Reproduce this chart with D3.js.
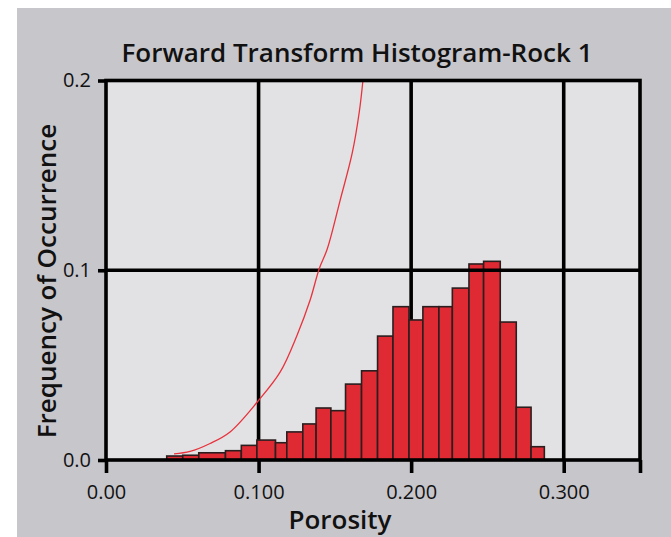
<!DOCTYPE html>
<html>
<head>
<meta charset="utf-8">
<script src="https://cdn.jsdelivr.net/npm/d3@7"></script>
<style>
  html, body { margin: 0; padding: 0; background: #ffffff; }
  svg { display: block; }
  text { font-family: "Open Sans", "Noto Sans", sans-serif; fill: #111; }
</style>
</head>
<body>
<svg id="chart" width="671" height="537"></svg>
<script>
// Histogram bin edges (porosity) and relative frequency of each bin
const binEdges = [0.0398, 0.0503, 0.0608, 0.0783, 0.0887, 0.0989, 0.1111, 0.1185,
  0.1290, 0.1377, 0.1474, 0.1570, 0.1675, 0.1780, 0.1881, 0.1986, 0.2077, 0.2182,
  0.2270, 0.2379, 0.2475, 0.2584, 0.2689, 0.2786, 0.2873];
const frequency = [0.0021, 0.0025, 0.0038, 0.0049, 0.0077, 0.0105, 0.0091, 0.0148,
  0.0190, 0.0274, 0.0260, 0.0400, 0.0470, 0.0653, 0.0808, 0.0738, 0.0808, 0.0808,
  0.0906, 0.1033, 0.1047, 0.0727, 0.0278, 0.0070];

// Forward transform curve
const curvePorosity = [0.0446, 0.0551, 0.0682, 0.0813, 0.0997, 0.1142, 0.1253, 0.1338,
  0.1397, 0.1450, 0.1535, 0.1614, 0.1660, 0.1684];
const curveValue = [0.0032, 0.0045, 0.0087, 0.0148, 0.0311, 0.0464, 0.0659, 0.0843,
  0.1007, 0.1112, 0.1370, 0.1618, 0.1834, 0.2000];

// Axes
const xTicks = [0, 0.1, 0.2, 0.3];
const xTickLabels = ["0.00", "0.100", "0.200", "0.300"];
const yTicks = [0, 0.1, 0.2];
const yTickLabels = ["0.0", "0.1", "0.2"];
const xMax = 0.35, yMax = 0.2;

const title = "Forward Transform Histogram-Rock 1";
const xTitle = "Porosity";
const yTitle = "Frequency of Occurrence";

const svg = d3.select("#chart");
const W = 671, H = 537;
const plot = { left: 106, right: 640, top: 80.5, bottom: 460 };

const x = d3.scaleLinear().domain([0, xMax]).range([plot.left, plot.right]);
const y = d3.scaleLinear().domain([0, yMax]).range([plot.bottom, plot.top]);

// panel background
svg.append("rect").attr("x", 17).attr("y", 8).attr("width", W - 17).attr("height", H - 8)
  .attr("fill", "#c7c6cb");
svg.append("rect").attr("x", plot.left).attr("y", plot.top)
  .attr("width", plot.right - plot.left).attr("height", plot.bottom - plot.top)
  .attr("fill", "#e2e2e4");

const lineW = 3.6;

// vertical grid lines (under the bars)
svg.append("g").selectAll("line").data(xTicks.filter(d => d > 0)).join("line")
  .attr("x1", d => x(d)).attr("x2", d => x(d))
  .attr("y1", plot.top).attr("y2", plot.bottom)
  .attr("stroke", "#000").attr("stroke-width", lineW);

// histogram bars
const bins = frequency.map((f, i) => ({ x0: binEdges[i], x1: binEdges[i + 1], f }));
svg.append("g").selectAll("rect").data(bins).join("rect")
  .attr("x", d => x(d.x0)).attr("width", d => x(d.x1) - x(d.x0))
  .attr("y", d => y(d.f)).attr("height", d => y(0) - y(d.f))
  .attr("fill", "#e02a33").attr("stroke", "#2a1e1f").attr("stroke-width", 1.6);

// horizontal grid lines (over the bars)
svg.append("g").selectAll("line").data(yTicks.filter(d => d > 0 && d < yMax)).join("line")
  .attr("x1", plot.left).attr("x2", plot.right)
  .attr("y1", d => y(d)).attr("y2", d => y(d))
  .attr("stroke", "#000").attr("stroke-width", lineW);

// transform curve
const line = d3.line().x((d, i) => x(curvePorosity[i])).y(d => y(d)).curve(d3.curveCatmullRom.alpha(0.5));
svg.append("path").datum(curveValue).attr("d", line)
  .attr("fill", "none").attr("stroke", "#e8323c").attr("stroke-width", 1.3);

// frame
svg.append("rect").attr("x", plot.left).attr("y", plot.top)
  .attr("width", plot.right - plot.left).attr("height", plot.bottom - plot.top)
  .attr("fill", "none").attr("stroke", "#000").attr("stroke-width", lineW);

// x axis ticks and labels
const xAxis = d3.axisBottom(x).tickValues(xTicks.concat([xMax]))
  .tickSize(13).tickFormat(d => { const i = xTicks.indexOf(d); return i >= 0 ? xTickLabels[i] : ""; })
  .tickPadding(12);
const gx = svg.append("g").attr("transform", `translate(0,${plot.bottom})`).call(xAxis);
gx.select(".domain").remove();
gx.selectAll(".tick line").attr("stroke", "#000").attr("stroke-width", lineW);
gx.selectAll(".tick text").attr("font-size", 20).attr("font-family", "Open Sans").attr("fill", "#111");

// y axis ticks and labels
const yAxis = d3.axisLeft(y).tickValues(yTicks).tickSize(8)
  .tickFormat((d, i) => yTickLabels[yTicks.indexOf(d)]).tickPadding(7);
const gy = svg.append("g").attr("transform", `translate(${plot.left},0)`).call(yAxis);
gy.select(".domain").remove();
gy.selectAll(".tick line").attr("stroke", "#000").attr("stroke-width", lineW);
gy.selectAll(".tick text").attr("font-size", 20).attr("font-family", "Open Sans").attr("fill", "#111");

// titles
svg.append("text").attr("x", 357).attr("y", 62).attr("text-anchor", "middle")
  .attr("font-size", 26).attr("font-weight", 600).text(title);
svg.append("text").attr("x", 340).attr("y", 529).attr("text-anchor", "middle")
  .attr("font-size", 26).attr("font-weight", 600).text(xTitle);
svg.append("text").attr("transform", "translate(56,281) rotate(-90)").attr("text-anchor", "middle")
  .attr("font-size", 26).attr("font-weight", 600).text(yTitle);
</script>
</body>
</html>
